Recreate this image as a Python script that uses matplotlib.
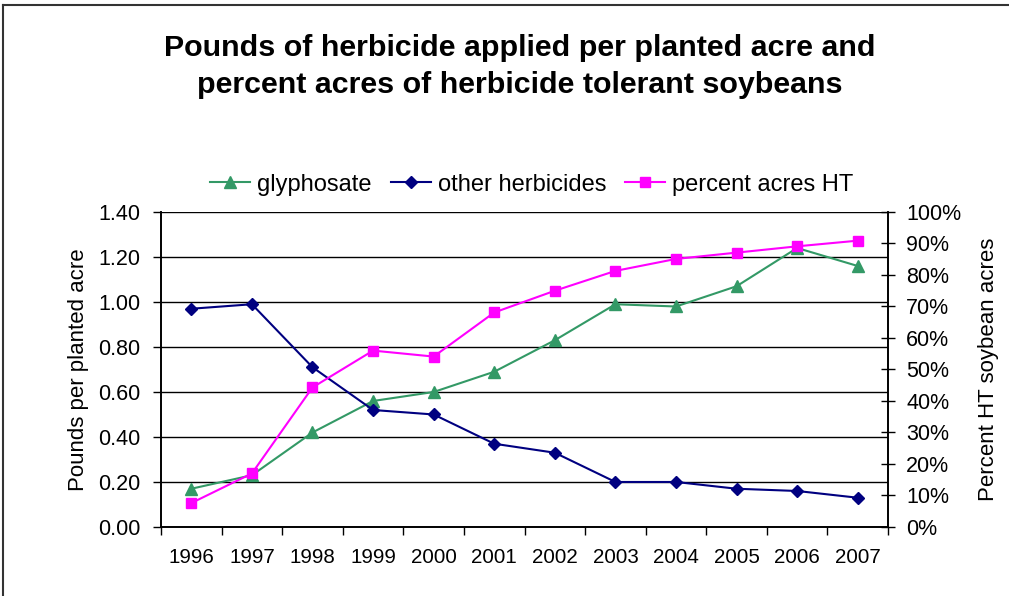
import numpy as np
from matplotlib import pyplot as plt
from matplotlib.lines import Line2D

years = ['1996', '1997', '1998', '1999', '2000', '2001',
         '2002', '2003', '2004', '2005', '2006', '2007']
glyphosate = [0.17, 0.23, 0.42, 0.56, 0.60, 0.69, 0.83, 0.99, 0.98, 1.07, 1.24, 1.16]
other_herbicides = [0.97, 0.99, 0.71, 0.52, 0.50, 0.37, 0.33, 0.20, 0.20, 0.17, 0.16, 0.13]
percent_ht = [7.6, 17.0, 44.3, 56.0, 54.1, 68.1, 75.0, 81.3, 85.1, 87.1, 89.1, 90.9]

left_ticks = [0.0, 0.2, 0.4, 0.6, 0.8, 1.0, 1.2, 1.4]
right_ticks = [0, 10, 20, 30, 40, 50, 60, 70, 80, 90, 100]

plt.rcParams['font.family'] = ['Liberation Sans', 'DejaVu Sans']

fig = plt.figure(figsize=(10.09, 5.96), dpi=100)
ax = fig.add_axes([0.1596, 0.1158, 0.7205, 0.5285])
ax2 = ax.twinx()

x = np.arange(len(years))

# gridlines at left axis ticks
for t in left_ticks:
    ax.axhline(t, color='black', lw=1.0, zorder=0)

ax.plot(x, glyphosate, color='#339966', marker='^', markersize=8, lw=1.5,
        label='glyphosate', zorder=3)
ax.plot(x, other_herbicides, color='#000080', marker='D', markersize=6.5, lw=1.5,
        label='other herbicides', zorder=3)
ax2.plot(x, percent_ht, color='#FF00FF', marker='s', markersize=7.5, lw=1.5,
         label='percent acres HT', zorder=3)

ax.set_xlim(-0.5, len(years) - 0.5)
ax.set_ylim(0, 1.4)
ax2.set_ylim(0, 100)

ax.set_yticks(left_ticks)
ax.set_yticklabels(['%.2f' % t for t in left_ticks], fontsize=15.5)
ax2.set_yticks(right_ticks)
ax2.set_yticklabels(['%d%%' % t for t in right_ticks], fontsize=15.5)

ax.set_xticks(x)
ax.set_xticklabels(years, fontsize=14.8)
ax.set_xticks(np.arange(-0.5, len(years)), minor=True)
ax.tick_params(axis='x', which='major', length=0, pad=15)
ax.tick_params(axis='x', which='minor', length=6, direction='out', width=1)
ax.tick_params(axis='y', length=6, direction='out', width=1, pad=9)
ax2.tick_params(axis='y', length=10, direction='inout', width=1, pad=8)

for a in (ax, ax2):
    a.spines['top'].set_visible(False)
    for s in ('left', 'right', 'bottom'):
        a.spines[s].set_linewidth(1.2)

ax.set_ylabel('Pounds per planted acre', fontsize=16, labelpad=6)
ax2.set_ylabel('Percent HT soybean acres', fontsize=16, labelpad=12)

fig.text(0.515, 0.888, 'Pounds of herbicide applied per planted acre and\n'
         'percent acres of herbicide tolerant soybeans',
         ha='center', va='center', fontsize=21.9, fontweight='bold', linespacing=1.4)

handles = [
    Line2D([], [], color='#339966', marker='^', markersize=8, lw=1.5),
    Line2D([], [], color='#000080', marker='D', markersize=6.5, lw=1.5),
    Line2D([], [], color='#FF00FF', marker='s', markersize=7.5, lw=1.5),
]
fig.legend(handles, ['glyphosate', 'other herbicides', 'percent acres HT'],
           loc='center', bbox_to_anchor=(0.527, 0.69), ncol=3, frameon=False,
           fontsize=17, handlelength=1.7, handletextpad=0.3, columnspacing=0.8)

# chart area border (top and left edges)
fig.add_artist(Line2D([0.003, 1.0], [0.9916, 0.9916], transform=fig.transFigure,
                      color='#333333', lw=1.5))
fig.add_artist(Line2D([0.003, 0.003], [0.0, 0.9916], transform=fig.transFigure,
                      color='#333333', lw=1.5))

fig.savefig('out.png', dpi=100)
